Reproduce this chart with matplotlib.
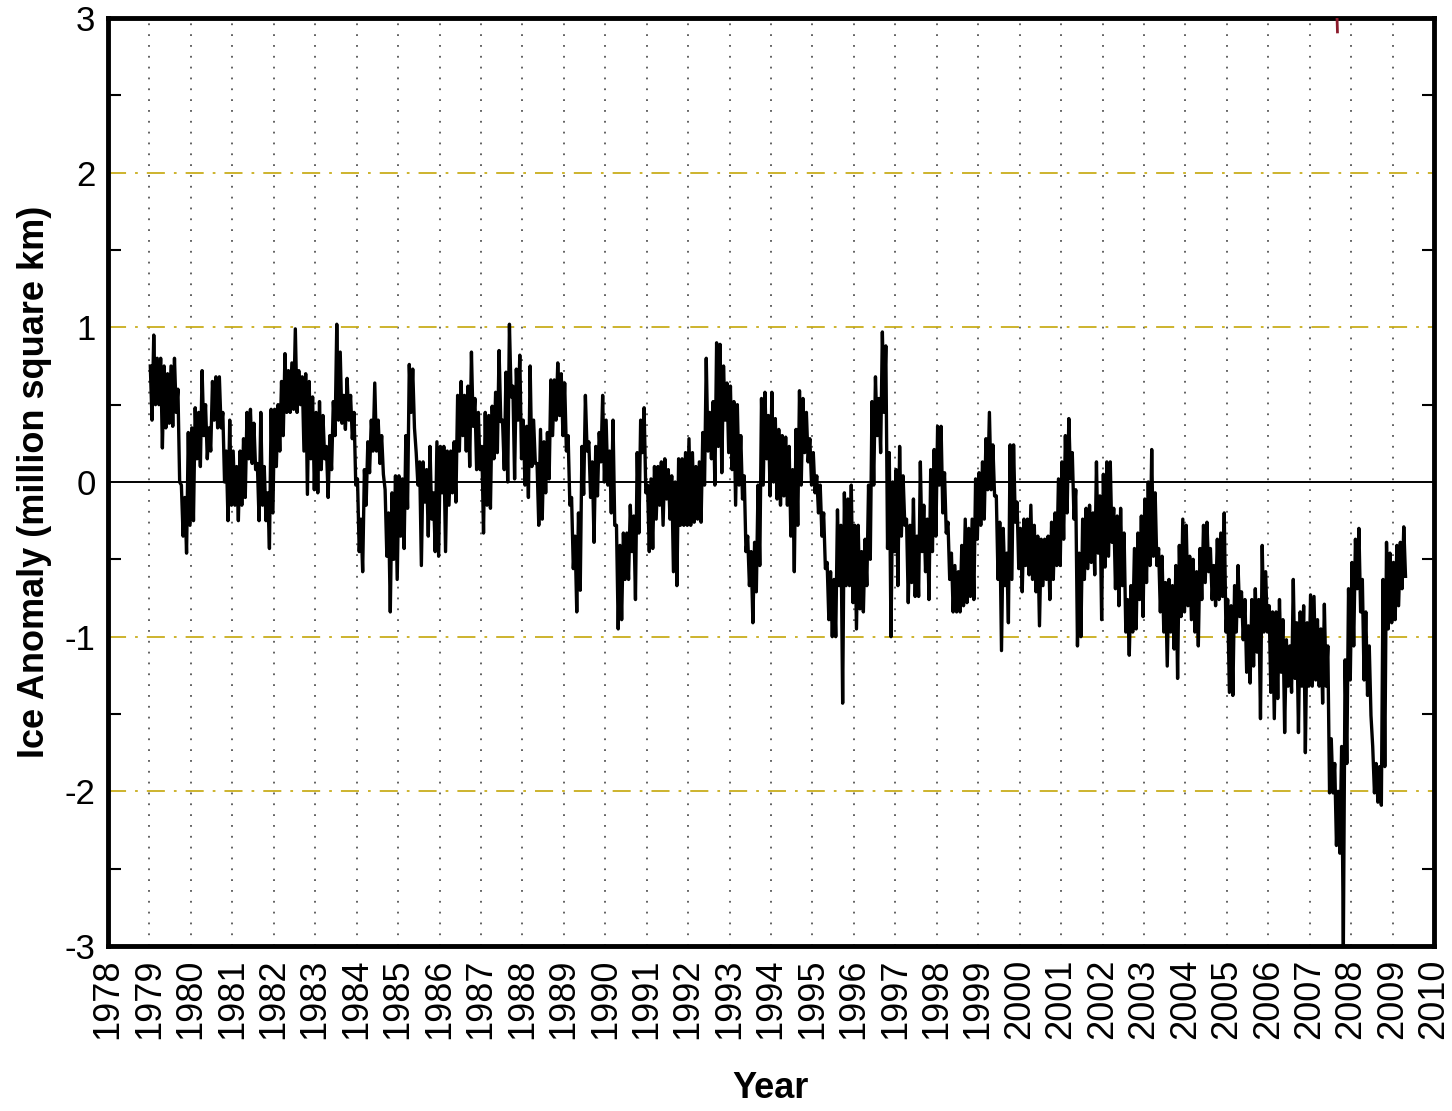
import numpy as np
import matplotlib
matplotlib.use('Agg')
import matplotlib.pyplot as plt

plt.rcParams['font.family'] = ['Liberation Sans', 'DejaVu Sans']

# monthly high / low of the anomaly band (million km2)
first_year = 1979
anom_hi = [
    0.75, 0.95, 0.80, 0.80, 0.75, 0.70, 0.75, 0.80, 0.60, -0.02, -0.10, 0.32,     # 1979
    0.35, 0.48, 0.45, 0.72, 0.50, 0.35, 0.65, 0.68, 0.68, 0.45, 0.20, 0.40,       # 1980
    0.20, 0.10, 0.20, 0.28, 0.45, 0.47, 0.38, 0.12, 0.45, 0.10, -0.07, 0.47,      # 1981
    0.47, 0.50, 0.65, 0.83, 0.72, 0.77, 0.99, 0.72, 0.68, 0.70, 0.65, 0.55,       # 1982
    0.45, 0.52, 0.43, 0.23, 0.30, 0.52, 1.02, 0.84, 0.56, 0.67, 0.56, 0.45,       # 1983
    0.02, -0.24, 0.08, 0.26, 0.40, 0.64, 0.40, 0.30, -0.05, -0.20, -0.07, 0.04,   # 1984
    0.04, 0.02, 0.30, 0.76, 0.73, 0.19, 0.13, 0.13, 0.08, 0.23, -0.07, 0.26,      # 1985
    0.23, 0.23, 0.20, 0.20, 0.26, 0.56, 0.65, 0.56, 0.62, 0.84, 0.54, 0.45,       # 1986
    0.23, 0.45, 0.43, 0.49, 0.58, 0.85, 0.40, 0.71, 1.02, 0.62, 0.73, 0.82,       # 1987
    0.40, 0.36, 0.75, 0.40, 0.12, 0.34, 0.26, 0.32, 0.66, 0.66, 0.77, 0.70,       # 1988
    0.64, 0.30, -0.10, -0.35, -0.20, 0.23, 0.56, 0.26, 0.13, 0.23, 0.32, 0.56,    # 1989
    0.40, 0.20, 0.40, -0.28, -0.41, -0.33, -0.33, -0.15, -0.22, 0.19, 0.40, 0.48, # 1990
    -0.02, 0.02, 0.10, 0.10, 0.13, 0.15, 0.08, 0.04, 0.00, 0.15, 0.15, 0.19,      # 1991
    0.28, 0.19, 0.10, 0.13, 0.32, 0.80, 0.45, 0.52, 0.90, 0.89, 0.75, 0.64,       # 1992
    0.62, 0.52, 0.50, 0.30, 0.04, -0.35, -0.45, -0.39, -0.02, 0.54, 0.58, 0.43,   # 1993
    0.58, 0.41, 0.34, 0.30, 0.29, 0.23, 0.08, 0.34, 0.59, 0.54, 0.45, 0.28,       # 1994
    0.19, 0.04, -0.02, -0.20, -0.52, -0.58, -0.63, -0.18, -0.28, -0.07, -0.11, -0.02,  # 1995
    -0.28, -0.28, -0.45, -0.37, -0.02, 0.52, 0.68, 0.54, 0.97, 0.88, 0.19, 0.00,  # 1996
    0.08, 0.23, 0.04, -0.24, -0.28, -0.11, -0.35, 0.13, -0.15, -0.24, 0.08, 0.21, # 1997
    0.36, 0.36, 0.06, -0.26, -0.46, -0.54, -0.58, -0.41, -0.24, -0.30, -0.24, 0.02,    # 1998
    0.06, 0.13, 0.28, 0.45, 0.24, -0.09, -0.26, -0.30, -0.46, 0.24, 0.24, -0.13,  # 1999
    -0.30, -0.24, -0.24, -0.15, -0.28, -0.35, -0.37, -0.37, -0.35, -0.26, -0.20, 0.02, # 2000
    0.13, 0.30, 0.41, 0.19, -0.05, -0.46, -0.24, -0.17, -0.15, -0.20, 0.13, -0.09,     # 2001
    0.05, 0.13, 0.13, -0.17, -0.22, -0.17, -0.33, -0.76, -0.67, -0.43, -0.33, -0.22,   # 2002
    -0.11, 0.00, 0.21, -0.07, -0.43, -0.48, -0.65, -0.63, -0.67, -0.54, -0.41, -0.24,  # 2003
    -0.28, -0.48, -0.50, -0.58, -0.43, -0.28, -0.26, -0.43, -0.54, -0.37, -0.33, -0.20, # 2004
    -0.76, -0.80, -0.67, -0.54, -0.71, -0.76, -0.93, -0.76, -0.69, -0.76, -0.41, -0.58, # 2005
    -0.80, -0.84, -0.84, -0.76, -0.89, -1.02, -1.06, -0.63, -0.91, -0.84, -0.80, -0.91, # 2006
    -0.73, -0.74, -0.89, -0.95, -0.79, -1.06, -1.66, -1.82, -2.00, -1.71, -1.15, -0.69, # 2007
    -0.52, -0.37, -0.30, -0.63, -0.84, -1.06, -1.71, -1.82, -1.84, -0.63, -0.39, -0.46, # 2008
    -0.52, -0.41, -0.39, -0.29,                                                   # 2009
]
anom_lo = [
    0.40, 0.50, 0.50, 0.22, 0.35, 0.38, 0.36, 0.45, 0.00, -0.35, -0.46, -0.28,    # 1979
    -0.25, 0.15, 0.10, 0.30, 0.15, 0.20, 0.40, 0.35, 0.35, 0.00, -0.25, -0.15,    # 1980
    -0.15, -0.25, -0.15, -0.10, 0.15, 0.12, 0.08, -0.25, -0.15, -0.25, -0.43, -0.20,   # 1981
    0.10, 0.20, 0.30, 0.45, 0.45, 0.47, 0.45, 0.50, 0.20, -0.08, 0.15, -0.05,     # 1982
    -0.07, 0.08, 0.15, -0.10, 0.08, 0.30, 0.40, 0.38, 0.34, 0.40, 0.28, -0.02,    # 1983
    -0.45, -0.58, -0.15, 0.06, 0.20, 0.20, 0.12, 0.05, -0.48, -0.84, -0.50, -0.63,     # 1984
    -0.35, -0.43, -0.17, 0.45, 0.35, -0.02, -0.54, -0.13, -0.35, -0.24, -0.45, -0.48,  # 1985
    -0.07, -0.45, -0.15, -0.07, -0.13, 0.20, 0.30, 0.20, 0.10, 0.36, 0.08, 0.08,  # 1986
    -0.33, -0.15, -0.17, 0.15, 0.19, 0.39, 0.08, 0.00, 0.55, 0.02, 0.40, 0.15,    # 1987
    -0.02, -0.10, 0.10, 0.12, -0.28, -0.24, -0.07, 0.02, 0.30, 0.40, 0.43, 0.30,  # 1988
    0.20, -0.15, -0.56, -0.84, -0.70, -0.08, 0.20, -0.10, -0.39, -0.09, 0.13, 0.00,    # 1989
    -0.02, -0.20, -0.28, -0.95, -0.89, -0.63, -0.63, -0.45, -0.76, -0.33, 0.19, -0.07, # 1990
    -0.45, -0.43, -0.24, -0.15, -0.28, -0.11, -0.24, -0.58, -0.67, -0.28, -0.28, -0.28, # 1991
    -0.28, -0.26, -0.24, -0.26, -0.02, 0.20, 0.15, -0.02, 0.23, 0.06, 0.40, 0.19, # 1992
    0.08, -0.15, -0.02, -0.11, -0.45, -0.67, -0.91, -0.71, -0.54, -0.02, 0.15, -0.09,  # 1993
    0.00, -0.11, -0.15, -0.09, -0.15, -0.35, -0.58, -0.28, -0.02, 0.19, 0.13, -0.02,   # 1994
    -0.07, -0.20, -0.35, -0.56, -0.89, -1.00, -1.00, -0.67, -1.43, -0.67, -0.67, -0.78, # 1995
    -0.95, -0.82, -0.84, -0.67, -0.50, -0.02, 0.30, 0.19, 0.45, -0.43, -1.00, -0.45,   # 1996
    -0.67, -0.35, -0.28, -0.78, -0.65, -0.74, -0.74, -0.45, -0.58, -0.76, -0.45, -0.35, # 1997
    -0.02, -0.20, -0.33, -0.63, -0.84, -0.84, -0.84, -0.80, -0.78, -0.74, -0.76, -0.37, # 1998
    -0.28, -0.24, -0.05, -0.05, -0.09, -0.63, -1.09, -0.67, -0.91, -0.63, -0.26, -0.56, # 1999
    -0.71, -0.54, -0.60, -0.63, -0.71, -0.93, -0.67, -0.63, -0.76, -0.63, -0.54, -0.54, # 2000
    -0.37, -0.20, 0.02, -0.24, -1.06, -1.00, -0.63, -0.56, -0.52, -0.60, -0.46, -0.89,  # 2001
    -0.55, -0.48, -0.39, -0.69, -0.80, -0.67, -0.97, -1.12, -0.97, -0.95, -0.76, -0.87, # 2002
    -0.65, -0.54, -0.48, -0.54, -0.84, -0.97, -1.19, -0.97, -1.08, -1.27, -0.87, -0.84, # 2003
    -0.80, -0.89, -0.97, -1.06, -0.76, -0.65, -0.58, -0.76, -0.80, -0.76, -0.74, -0.97, # 2004
    -1.36, -1.38, -0.97, -0.87, -1.02, -1.23, -1.30, -1.19, -1.10, -1.53, -0.97, -0.97, # 2005
    -1.36, -1.53, -1.40, -1.23, -1.62, -1.32, -1.36, -1.27, -1.62, -1.32, -1.75, -1.32, # 2006
    -1.32, -1.28, -1.32, -1.43, -1.32, -2.01, -2.01, -2.35, -2.40, -3.00, -1.82, -1.28, # 2007
    -1.06, -0.69, -0.84, -1.28, -1.38, -1.51, -2.01, -2.07, -2.09, -1.84, -0.95, -0.91, # 2008
    -0.89, -0.80, -0.69, -0.61,                                                   # 2009
]

# small red stroke at the top edge
red_t = [2007.66, 2007.67]
red_v = [3.0, 2.91]

year_ticks = list(range(1978, 2011))
y_ticks = [-3, -2, -1, 0, 1, 2, 3]
guide_levels = [-2, -1, 1, 2]

# build the zig-zag path: high then low inside every month
n = len(anom_hi)
t = []
v = []
for i in range(n):
    t.append(first_year + (i + 0.25) / 12.0)
    v.append(anom_hi[i])
    t.append(first_year + (i + 0.75) / 12.0)
    v.append(anom_lo[i])

fig = plt.figure(figsize=(14.52, 11.11), dpi=100)
ax = fig.add_axes([108 / 1452, 1 - 946 / 1111, (1434 - 108) / 1452, (946 - 18) / 1111])

# vertical dotted year grid
for yr in year_ticks[1:-1]:
    ax.axvline(yr, color='#555555', lw=1.3, dashes=(1, 5), zorder=1)
# dash-dot guide lines
for lev in guide_levels:
    ax.axhline(lev, color='#c9ae1c', lw=1.3, dashes=(10, 5, 1.5, 5), zorder=1)
ax.axhline(0, color='black', lw=1.4, zorder=2)

ax.plot(t, v, color='black', lw=2.4, zorder=3)
ax.plot(red_t, red_v, color='#8b1a2b', lw=2.0, zorder=3)

ax.set_xlim(1978, 2010)
ax.set_ylim(-3, 3)
ax.set_xticks(year_ticks)
ax.set_xticklabels([str(y) for y in year_ticks], rotation=90, fontsize=26)
ax.set_yticks(y_ticks)
ax.set_yticklabels([str(y) for y in y_ticks], fontsize=25)
ax.set_yticks(np.arange(-2.5, 3.0, 1.0), minor=True)
ax.tick_params(axis='x', length=0, pad=9)
ax.tick_params(axis='y', which='major', length=0, pad=9)
ax.tick_params(axis='y', which='minor', length=9, width=1.5, direction='in',
               left=True, right=True)

for s in ax.spines.values():
    s.set_linewidth(3.5)

ax.set_xlabel('Year', fontsize=26, fontweight='bold')
ax.set_ylabel('Ice Anomaly (million square km)', fontsize=26, fontweight='bold')
ax.xaxis.set_label_coords(0.5, -0.135)
ax.yaxis.set_label_coords(-0.042, 0.5)

fig.savefig('out.png', dpi=100)
